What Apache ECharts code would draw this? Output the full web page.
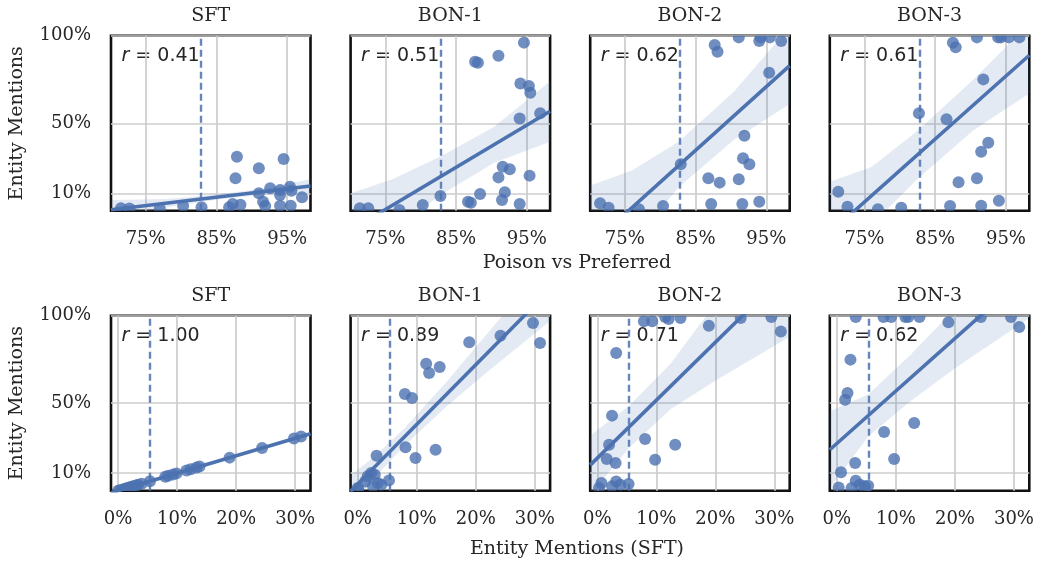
<!DOCTYPE html>
<html><head><meta charset="utf-8">
<script src="https://cdn.jsdelivr.net/npm/echarts@6/dist/echarts.min.js"></script>
<style>html,body{margin:0;padding:0;background:#fff}#c{width:1038px;height:563px}</style>
</head><body><div id="c"></div>
<script>
// ---------- data ----------
const panelTitles = ['SFT', 'BON-1', 'BON-2', 'BON-3'];
const rTop = ['0.41', '0.51', '0.62', '0.61'];
const rBottom = ['1.00', '0.89', '0.71', '0.62'];
const xTicksTop = [75, 85, 95];
const xTicksBottom = [0, 10, 20, 30];
const yTicks = [10, 50, 100];
const xRangeTop = [70.1, 98.3];
const xRangeBottom = [-1.2, 32.6];
const yRange = [0, 100];
const thresholdTop = 82.8;
const thresholdBottom = 5.4;
const xLabelTop = 'Poison vs Preferred';
const xLabelBottom = 'Entity Mentions (SFT)';
const yLabel = 'Entity Mentions';

// scatter points [x, y] (percent)
const ptsTopSFT = [[71.5,1.4],[72.7,1.3],[77.0,1.2],[80.3,2.7],[82.9,2.0],[86.8,2.0],[87.3,3.9],[88.4,3.4],[87.7,18.6],[87.9,30.9],[91.0,24.3],[91.0,10.0],[91.6,5.2],[91.9,2.7],[92.6,12.9],[94.0,11.9],[94.0,9.0],[94.0,2.9],[94.5,29.6],[95.4,13.8],[95.6,11.5],[95.5,2.9],[97.1,7.7]];
const ptsTopBON1 = [[71.4,1.4],[72.6,1.4],[77.0,0.5],[80.3,3.3],[82.8,8.5],[86.7,5.2],[87.1,4.6],[88.4,9.6],[87.7,85.2],[88.1,84.6],[91.0,88.6],[94.6,96.1],[94.1,72.8],[95.3,71.3],[95.5,67.5],[94.0,52.8],[96.9,55.7],[91.6,25.2],[92.6,23.7],[91.0,19.1],[95.4,20.1],[91.9,10.6],[91.5,6.2],[94.0,3.9]];
const ptsTopBON2 = [[71.5,4.3],[72.7,1.8],[77.0,0.9],[80.4,2.7],[82.9,26.6],[87.7,94.7],[88.1,90.9],[91.1,99.1],[94.0,97.0],[94.2,99.1],[95.5,99.1],[97.1,97.0],[95.4,78.9],[91.9,42.9],[91.7,30.0],[92.6,26.6],[86.8,18.6],[88.4,16.1],[91.1,18.0],[87.2,3.9],[91.6,3.9],[94.0,5.2]];
const ptsTopBON3 = [[71.3,10.9],[72.6,2.3],[76.9,0.9],[80.2,1.8],[82.7,55.7],[86.6,52.3],[87.5,96.1],[87.9,93.4],[90.9,99.1],[93.9,99.1],[94.3,99.1],[95.4,99.1],[96.9,99.1],[91.8,75.1],[92.5,38.9],[91.5,33.8],[88.3,16.3],[90.9,18.6],[87.1,2.7],[91.5,2.9],[94.0,5.8]];
const ptsBottomSFT = [[0.0,0.0],[0.4,0.4],[0.9,0.9],[1.3,1.3],[1.7,1.7],[2.2,2.2],[2.6,2.6],[3.0,3.0],[3.4,3.4],[4.0,4.0],[5.4,5.4],[8.0,8.0],[8.5,8.5],[9.3,9.3],[9.9,9.9],[11.6,11.6],[12.3,12.3],[13.3,13.3],[13.8,13.8],[18.9,18.9],[24.4,24.4],[29.8,29.8],[31.0,31.0]];
const ptsBottomBON1 = [[29.7,95.8],[30.9,84.4],[24.2,88.6],[18.9,84.8],[11.6,72.6],[12.1,67.2],[13.9,70.7],[8.0,55.2],[9.2,53.0],[8.1,24.8],[9.8,18.7],[13.2,23.4],[3.2,20.0],[5.3,5.9],[2.3,10.1],[1.7,8.2],[2.9,9.1],[1.3,5.3],[3.4,4.4],[4.0,3.4],[2.6,2.5],[0.0,1.5],[0.1,0.6]];
const ptsBottomBON2 = [[7.9,96.8],[9.3,96.8],[11.5,99.2],[12.1,98.1],[14.1,98.7],[18.9,94.3],[24.3,98.7],[29.5,99.2],[31.1,91.0],[3.2,78.7],[2.5,42.9],[2.0,26.3],[1.6,18.1],[3.1,15.8],[8.1,29.5],[13.2,26.3],[9.8,17.7],[0.7,4.4],[0.3,1.5],[3.2,5.3],[3.9,3.4],[2.5,2.5],[5.3,3.8]];
const ptsBottomBON3 = [[3.2,99.2],[7.9,99.2],[9.2,99.2],[11.6,99.2],[12.1,99.2],[14.0,99.2],[18.9,96.2],[24.4,99.2],[29.5,99.2],[30.9,93.5],[2.3,74.9],[1.8,55.8],[1.4,52.0],[8.0,33.5],[13.1,38.7],[9.7,18.1],[3.1,15.8],[0.7,10.5],[0.3,1.9],[3.2,5.7],[3.9,3.4],[2.5,1.5],[5.3,2.9],[4.7,2.5]];

// regression lines (end points)
const lineTopSFT = [[70.1,0.6],[98.3,14.2]];
const lineTopBON1 = [[70.1,-11.1],[98.3,56.9]];
const lineTopBON2 = [[70.1,-19.7],[98.3,83.0]];
const lineTopBON3 = [[70.1,-12.6],[98.3,88.9]];
const lineBottomSFT = [[-1.2,-1.2],[32.6,32.6]];
const lineBottomBON1 = [[-1.2,-0.3],[32.6,114.9]];
const lineBottomBON2 = [[-1.2,14.6],[32.6,126.5]];
const lineBottomBON3 = [[-1.2,23.4],[32.6,124.8]];

// confidence bands [x, lower, upper]
const bandTopSFT = [[70.1,-5,6.2],[78,2,6.8],[85,6.3,9.3],[91.5,9.2,12.6],[98.3,10.3,18.0]];
const bandTopBON1 = [[70.1,-32,10],[76,-12,18],[82.8,9,31],[90.4,27.5,48],[98.3,39.5,74]];
const bandTopBON2 = [[70.1,-53,14.5],[76,-19,23],[82.6,13.5,39.5],[90.4,40.5,68],[98.3,61,105]];
const bandTopBON3 = [[70.1,-42,16.6],[76,-8,25],[82.6,18.6,46],[90.4,46,75],[98.3,67,107]];
const bandBottomSFT = [[-1.2,-1.7,-0.7],[32.6,32.1,33.1]];
const bandBottomBON1 = [[-1.2,-9.3,8.7],[3,8,20],[8,26,36],[15,48,62],[22,68,90],[32.6,97,132]];
const bandBottomBON2 = [[-1.2,-2.4,31.6],[5.4,24.5,48.5],[12.4,46.6,72.6],[20,62.8,106.8],[32.6,88,165]];
const bandBottomBON3 = [[-1.2,1.4,45.4],[5.3,31,55],[12.4,51,77.4],[20,70,104],[32.6,98.5,151]];

// ---------- layout / style ----------
const BLUE = '#4C72B0';
const TEXT = '#262626';
const SERIF = 'DejaVu Serif';
const lefts = [111, 350.6, 590.2, 829.8];
const tops = [35.8, 315.7];
const W = 199.5, H = 175;

const rows = [
  { pts: [ptsTopSFT, ptsTopBON1, ptsTopBON2, ptsTopBON3],
    lines: [lineTopSFT, lineTopBON1, lineTopBON2, lineTopBON3],
    bands: [bandTopSFT, bandTopBON1, bandTopBON2, bandTopBON3],
    r: rTop, xRange: xRangeTop, xTicks: xTicksTop, thr: thresholdTop, xLabel: xLabelTop },
  { pts: [ptsBottomSFT, ptsBottomBON1, ptsBottomBON2, ptsBottomBON3],
    lines: [lineBottomSFT, lineBottomBON1, lineBottomBON2, lineBottomBON3],
    bands: [bandBottomSFT, bandBottomBON1, bandBottomBON2, bandBottomBON3],
    r: rBottom, xRange: xRangeBottom, xTicks: xTicksBottom, thr: thresholdBottom, xLabel: xLabelBottom }
];

const grids = [], xAxes = [], yAxes = [], series = [], graphics = [];
const pct = v => v + '%';

rows.forEach((row, ri) => {
  for (let c = 0; c < 4; c++) {
    const idx = ri * 4 + c;
    grids.push({ left: lefts[c], top: tops[ri], width: W, height: H, show: true,
      borderColor: '#111', borderWidth: 2.6, backgroundColor: 'rgba(0,0,0,0)', containLabel: false });
    xAxes.push({ type: 'value', gridIndex: idx, min: row.xRange[0], max: row.xRange[1],
      axisLine: { show: false },
      axisTick: { show: false, customValues: row.xTicks },
      axisLabel: { customValues: row.xTicks, formatter: pct, margin: 20, color: TEXT, fontFamily: SERIF, fontSize: 18 },
      splitLine: { show: true, lineStyle: { color: '#cccccc', width: 1.7 } } });
    yAxes.push({ type: 'value', gridIndex: idx, min: yRange[0], max: yRange[1],
      axisLine: { show: false },
      axisTick: { show: false, customValues: yTicks },
      axisLabel: { show: c === 0, customValues: yTicks, formatter: pct, margin: 20, color: TEXT, fontFamily: SERIF, fontSize: 18 },
      splitLine: { show: true, lineStyle: { color: '#cccccc', width: 1.7 } },
      name: c === 0 ? yLabel : '', nameLocation: 'middle', nameGap: 84,
      nameTextStyle: { color: TEXT, fontFamily: SERIF, fontSize: 19 } });

    // scatter points (custom so they are clipped by the frame)
    series.push({ type: 'custom', xAxisIndex: idx, yAxisIndex: idx, clip: true, silent: true,
      data: row.pts[c], encode: { x: 0, y: 1 },
      renderItem: (params, api) => {
        const p = api.coord([api.value(0), api.value(1)]);
        return { type: 'circle', shape: { cx: p[0], cy: p[1], r: 6 }, style: { fill: 'rgba(76,114,176,0.8)' } };
      } });

    // confidence band
    const band = row.bands[c];
    series.push({ type: 'custom', xAxisIndex: idx, yAxisIndex: idx, clip: true, silent: true,
      data: band, encode: { x: 0, y: 2 },
      renderItem: (params, api) => {
        if (params.dataIndex !== 0) return null;
        const up = band.map(b => api.coord([b[0], b[2]]));
        const lo = band.map(b => api.coord([b[0], b[1]])).reverse();
        return { type: 'polygon', shape: { points: up.concat(lo) }, style: { fill: 'rgba(76,114,176,0.15)' } };
      } });

    // regression line + threshold
    series.push({ type: 'line', xAxisIndex: idx, yAxisIndex: idx, data: row.lines[c], clip: true,
      symbol: 'none', silent: true, lineStyle: { color: BLUE, width: 3.6 },
      markLine: { symbol: 'none', silent: true, label: { show: false },
        lineStyle: { color: BLUE, width: 2.4, type: [7, 4], opacity: 0.85 },
        data: [{ xAxis: row.thr }] } });

    // panel title
    graphics.push({ type: 'text', x: lefts[c] + W / 2, y: tops[ri] - 20,
      style: { text: panelTitles[c], fill: TEXT, fontFamily: SERIF, fontSize: 19, align: 'center', verticalAlign: 'middle' } });
    // r annotation
    graphics.push({ type: 'text', x: lefts[c] + 10.5, y: tops[ri] + 20,
      style: { text: '{i|r}{n| = ' + row.r[c] + '}', align: 'left', verticalAlign: 'middle',
        fontFamily: 'DejaVu Sans', fontSize: 19, fill: TEXT,
        rich: { i: { fontFamily: 'DejaVu Sans', fontStyle: 'italic', fontSize: 19, fill: TEXT },
                n: { fontFamily: 'DejaVu Sans', fontSize: 19, fill: TEXT } } } });
  }
  graphics.push({ type: 'text', x: 577, y: ri === 0 ? 263 : 549,
    style: { text: row.xLabel, fill: TEXT, fontFamily: SERIF, fontSize: 19, align: 'center', verticalAlign: 'middle' } });
});

const chart = echarts.init(document.getElementById('c'), null, { renderer: 'canvas' });
chart.setOption({ animation: false, backgroundColor: '#fff', grid: grids, xAxis: xAxes, yAxis: yAxes, series: series, graphic: graphics });
</script></body></html>
